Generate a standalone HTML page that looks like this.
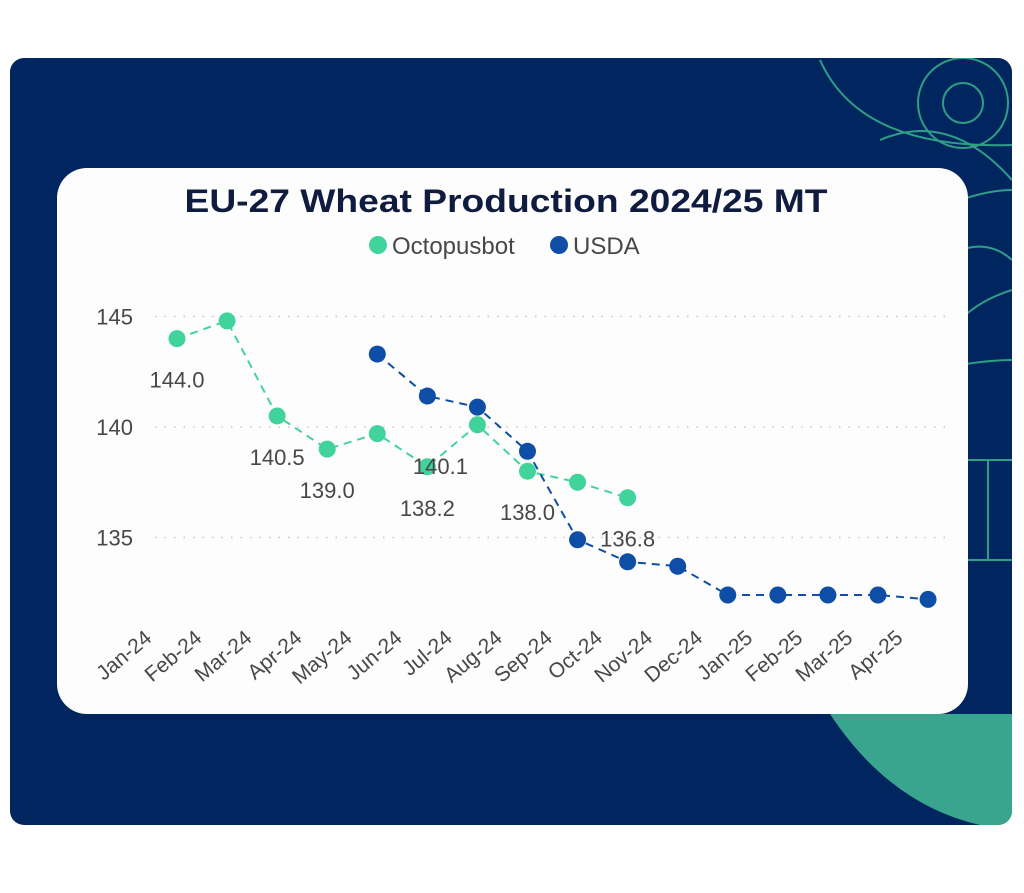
<!DOCTYPE html>
<html><head><meta charset="utf-8"><style>
html,body{margin:0;padding:0;background:#fff;width:1024px;height:893px;overflow:hidden}
svg{display:block}
text{font-family:"Liberation Sans",sans-serif}
</style></head><body>
<svg id="chart" width="1024" height="893" viewBox="0 0 1024 893">
<defs><clipPath id="bgclip"><rect x="10" y="58" width="1002" height="767" rx="14"/></clipPath></defs>
<rect x="10" y="58" width="1002" height="767" rx="14" fill="#01255f"/>
<g clip-path="url(#bgclip)" fill="none" stroke="#2f9e86" stroke-width="2">
<circle cx="963" cy="103" r="20"/>
<circle cx="963" cy="103" r="45"/>
<path d="M820 60 Q860 150 1012 145"/>
<path d="M880 140 Q950 110 1012 180"/>
<path d="M960 200 Q990 190 1012 190"/>
<path d="M960 250 Q990 240 1012 260"/>
<path d="M960 320 Q980 300 1012 290"/>
<path d="M960 365 Q990 360 1012 360"/>
<path d="M960 460 L1012 460 M960 560 L1012 560 M988 460 L988 560"/>
<path d="M830 714 Q900 820 1012 830 L1012 714 Z" fill="#3aa58e" stroke="none"/>
<path d="M1012 714 Q1010 780 990 825 L1012 825Z" fill="#3aa58e" stroke="none"/>
</g>
<rect x="57" y="168" width="911" height="546" rx="30" fill="#fdfdfd"/>
<text x="506" y="212" text-anchor="middle" font-size="32" font-weight="bold" fill="#0f1c3f" textLength="643" lengthAdjust="spacingAndGlyphs">EU-27 Wheat Production 2024/25 MT</text>
<g>
<circle cx="378" cy="245" r="9" fill="#41d39c"/>
<text x="392" y="254" font-size="24" fill="#4a4646">Octopusbot</text>
<circle cx="559" cy="245" r="9" fill="#0e4ea6"/>
<text x="573" y="254" font-size="24" fill="#4a4646">USDA</text>
</g>
<g id="plot"></g>
</svg>
<script>
const categories=["Jan-24","Feb-24","Mar-24","Apr-24","May-24","Jun-24","Jul-24","Aug-24","Sep-24","Oct-24","Nov-24","Dec-24","Jan-25","Feb-25","Mar-25","Apr-25"];
const octopusValues=[144.0,144.8,140.5,139.0,139.7,138.2,140.1,138.0,137.5,136.8];
const usdaStart=4;
const usdaValues=[143.3,141.4,140.9,138.9,134.9,133.9,133.7,132.4,132.4,132.4,132.4,132.2];
const yTicks=[135,140,145];
const labelledIdx=[0,2,3,5,6,7,9];
const NS="http://www.w3.org/2000/svg";
const plot=document.getElementById('plot');
function xs(i){return 177+i*50.07;}
function ys(v){return 427-(v-140)*22.1;}
function mk(tag,attrs){const e=document.createElementNS(NS,tag);for(const k in attrs)e.setAttribute(k,attrs[k]);plot.appendChild(e);return e;}
yTicks.forEach(t=>{
  const g=mk('line',{x1:155,x2:945,y1:ys(t),y2:ys(t),stroke:'#c8c8c8','stroke-width':1.5,'stroke-dasharray':'1.5 8'});
  
  
  const tx=mk('text',{x:133,y:ys(t)+8,'text-anchor':'end','font-size':22,fill:'#4a4646'});
  tx.textContent=t;
  
  
});
categories.forEach((c,i)=>{
  const x=xs(i)-24,y=640;
  const tx=mk('text',{x:x,y:y,'text-anchor':'end','font-size':21,fill:'#4a4646',transform:`rotate(-40 ${x} ${y})`});
  tx.textContent=c;
  
  
});
function series(vals,start,color,name){
  const pts=vals.map((v,i)=>xs(i+start)+','+ys(v)).join(' ');
  const pl=mk('polyline',{points:pts,fill:'none',stroke:color,'stroke-width':2,'stroke-dasharray':'8 6'});
  
  
  vals.forEach((v,i)=>{
    const c=mk('circle',{cx:xs(i+start),cy:ys(v),r:8.5,fill:color});
    
    
  });
}
series(octopusValues,0,'#41d39c','octopusbot');
series(usdaValues,usdaStart,'#0e4ea6','usda');
labelledIdx.forEach(i=>{
  const v=octopusValues[i];
  const dx=(i===6)?-37:0;
  const t=mk('text',{x:xs(i)+dx,y:ys(v)+49,'text-anchor':'middle','font-size':22,fill:'#4a4646'});
  t.textContent=v.toFixed(1);
  
  
});
</script>
</body></html>
